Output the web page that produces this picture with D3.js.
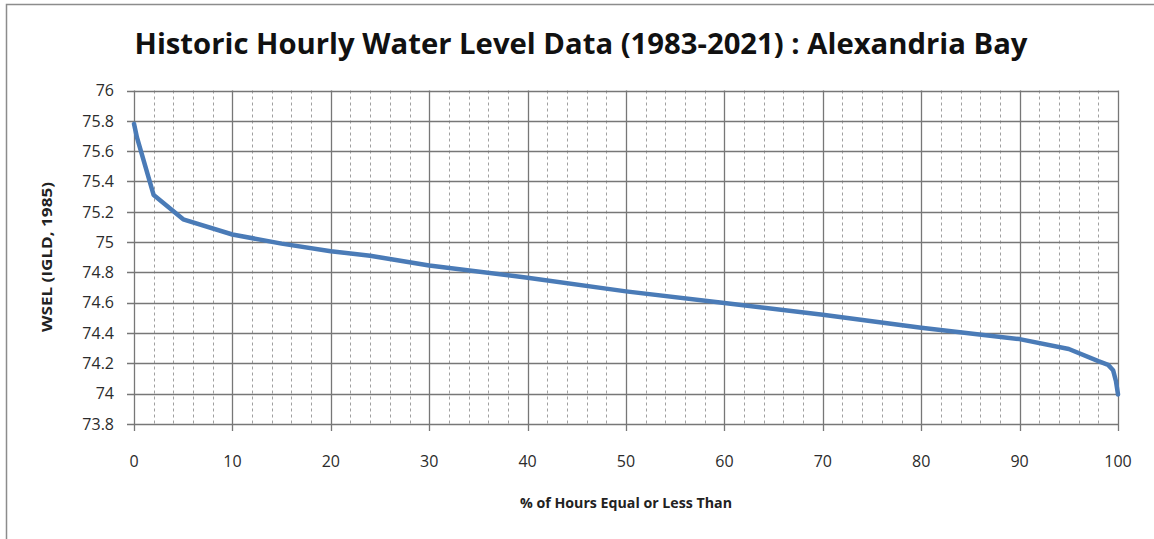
<!DOCTYPE html>
<html>
<head>
<meta charset="utf-8">
<script src="https://cdn.jsdelivr.net/npm/d3@7"></script>
<style>
  body { margin: 0; background: #fff; }
  svg { display: block; font-family: "Open Sans", "DejaVu Sans", sans-serif; }
</style>
</head>
<body>
<div id="chart"></div>
<script>
// Duration curve
const pctHours = [0, 0.3, 2, 5, 10, 15, 20, 24, 30, 40, 50, 60, 70, 80, 90, 95, 98, 99, 99.5, 99.8, 100];
const wsel = [75.78, 75.69, 75.31, 75.15, 75.05, 74.99, 74.94, 74.91, 74.845, 74.765, 74.675, 74.598, 74.52, 74.435, 74.36, 74.295, 74.215, 74.19, 74.155, 74.08, 73.995];

const xTicks = [0, 10, 20, 30, 40, 50, 60, 70, 80, 90, 100];
const xMinor = d3.range(0, 101, 2);
const yTicks = [73.8, 74, 74.2, 74.4, 74.6, 74.8, 75, 75.2, 75.4, 75.6, 75.8, 76];

const W = 1154, H = 539;
const plot = { left: 134, right: 1118, top: 90.5, bottom: 424 };

const svg = d3.select("#chart").append("svg")
  .attr("width", W)
  .attr("height", H);

// chart frame (only top and left edges are visible in the crop)
svg.append("path")
  .attr("d", `M6.5,${H} V4.5 H${W}`)
  .attr("fill", "none")
  .attr("stroke", "#8c8c8c")
  .attr("stroke-width", 1.5);

const x = d3.scaleLinear().domain([0, 100]).range([plot.left, plot.right]);
const y = d3.scaleLinear().domain([73.8, 76]).range([plot.bottom, plot.top]);

// minor vertical gridlines, dashed
svg.append("g")
  .selectAll("line")
  .data(xMinor.filter(d => d % 10 !== 0))
  .join("line")
  .attr("x1", d => Math.round(x(d)) + 0.5)
  .attr("x2", d => Math.round(x(d)) + 0.5)
  .attr("y1", plot.top)
  .attr("y2", plot.bottom)
  .attr("stroke", "#a0a0a0")
  .attr("stroke-width", 1)
  .attr("stroke-dasharray", "3,3");

// horizontal gridlines + y ticks
svg.append("g")
  .selectAll("line")
  .data(yTicks)
  .join("line")
  .attr("x1", plot.left - 7)
  .attr("x2", plot.right)
  .attr("y1", d => Math.round(y(d)) + 0.5)
  .attr("y2", d => Math.round(y(d)) + 0.5)
  .attr("stroke", "#777")
  .attr("stroke-width", 1.3);

// major vertical gridlines + x ticks
svg.append("g")
  .selectAll("line")
  .data(xTicks)
  .join("line")
  .attr("x1", d => Math.round(x(d)) + 0.5)
  .attr("x2", d => Math.round(x(d)) + 0.5)
  .attr("y1", plot.top)
  .attr("y2", plot.bottom + 7)
  .attr("stroke", "#777")
  .attr("stroke-width", 1.3);

// tick labels
svg.append("g")
  .selectAll("text")
  .data(yTicks)
  .join("text")
  .attr("x", plot.left - 20)
  .attr("y", d => y(d))
  .attr("dy", "0.36em")
  .attr("text-anchor", "end")
  .attr("font-size", 16)
  .attr("fill", "#2b2b2b")
  .text(d => d3.format("~g")(d));

svg.append("g")
  .selectAll("text")
  .data(xTicks)
  .join("text")
  .attr("x", d => x(d))
  .attr("y", 461)
  .attr("dy", "0.36em")
  .attr("text-anchor", "middle")
  .attr("font-size", 16)
  .attr("fill", "#2b2b2b")
  .text(d => d);

// the curve (straight segments, like the source)
const line = d3.line()
  .x((d, i) => x(pctHours[i]))
  .y(d => y(d));

svg.append("path")
  .datum(wsel)
  .attr("fill", "none")
  .attr("stroke", "#4a7bb7")
  .attr("stroke-width", 4.5)
  .attr("stroke-linejoin", "round")
  .attr("stroke-linecap", "round")
  .attr("d", line);

// titles
svg.append("text")
  .attr("x", 581)
  .attr("y", 54)
  .attr("text-anchor", "middle")
  .attr("font-size", 29)
  .attr("font-weight", "bold")
  .attr("fill", "#111")
  .attr("textLength", 893)
  .attr("lengthAdjust", "spacingAndGlyphs")
  .text("Historic Hourly Water Level Data (1983-2021) : Alexandria Bay");

svg.append("text")
  .attr("x", 626)
  .attr("y", 503)
  .attr("dy", "0.35em")
  .attr("text-anchor", "middle")
  .attr("font-size", 14)
  .attr("font-weight", "bold")
  .attr("fill", "#222")
  .attr("textLength", 212)
  .attr("lengthAdjust", "spacingAndGlyphs")
  .text("% of Hours Equal or Less Than");

svg.append("text")
  .attr("transform", "translate(47,257) rotate(-90)")
  .attr("dy", "0.35em")
  .attr("text-anchor", "middle")
  .attr("font-size", 14)
  .attr("font-weight", "bold")
  .attr("fill", "#222")
  .attr("textLength", 150)
  .attr("lengthAdjust", "spacingAndGlyphs")
  .text("WSEL (IGLD, 1985)");
</script>
</body>
</html>
